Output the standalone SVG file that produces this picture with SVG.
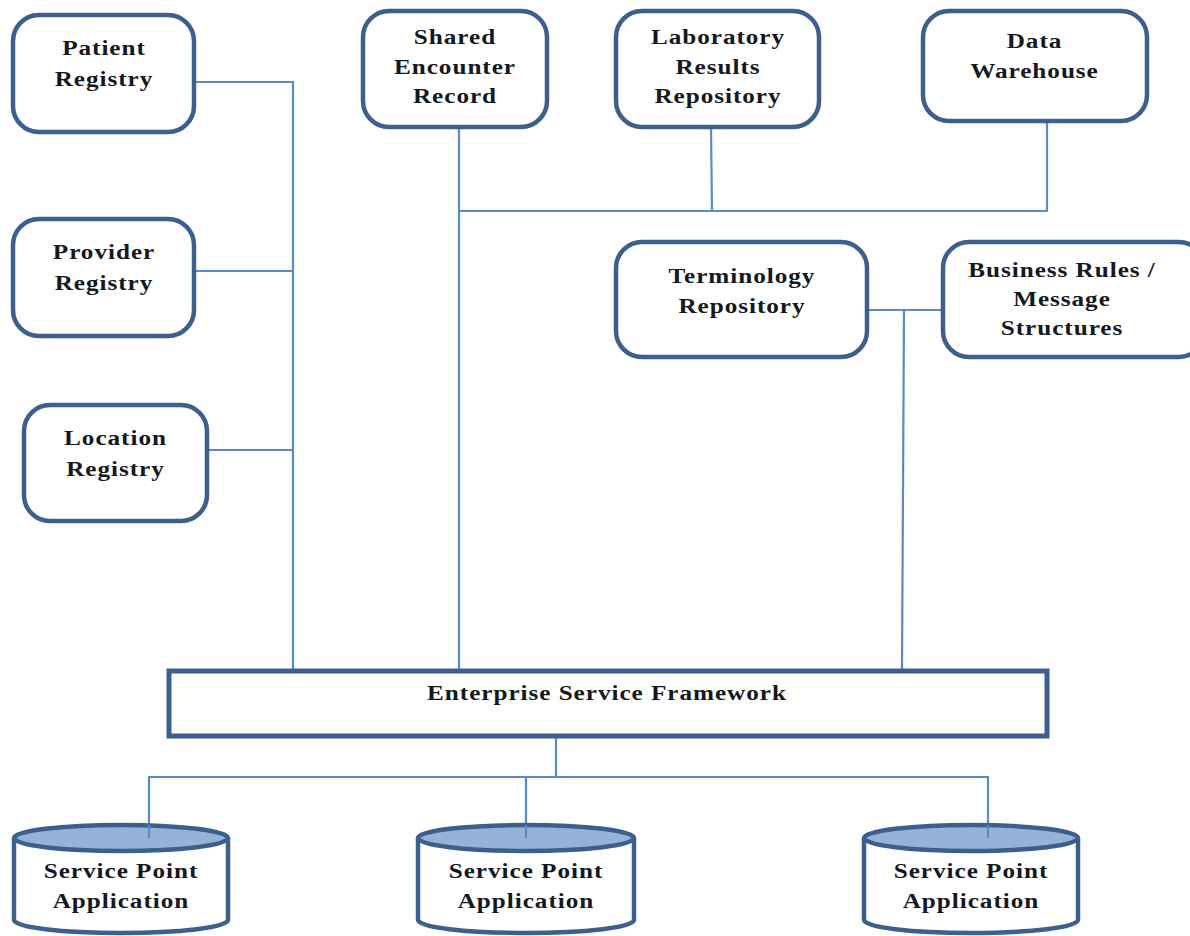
<svg xmlns="http://www.w3.org/2000/svg" width="1190" height="936" viewBox="0 0 1190 936">
  <style>
    .box { fill: #ffffff; stroke: #3c5f8d; stroke-width: 4.5; }
    .bar { fill: #ffffff; stroke: #3c5f8d; stroke-width: 5; }
    .cyl { fill: #ffffff; stroke: #3c5f8d; stroke-width: 4.5; }
    .cyltop { fill: #95b3d7; stroke: #3c5f8d; stroke-width: 4.5; }
    .wire { fill: none; stroke: #5b8bc7; stroke-width: 2.2; }
    .lbl { font-family: "Liberation Serif", "Times New Roman", serif; font-weight: bold; font-size: 21px; fill: #141820; text-anchor: middle; letter-spacing: 0.8px; }
  </style>

  <!-- connectors -->
  <g id="connectors">
    <!-- registries trunk -->
    <polyline class="wire" points="195,82 293,82 293,669"/>
    <line class="wire" x1="195" y1="271" x2="293" y2="271"/>
    <line class="wire" x1="208" y1="450" x2="293" y2="450"/>
    <!-- shared encounter / lab / warehouse -->
    <line class="wire" x1="459" y1="128" x2="459" y2="669"/>
    <polyline class="wire" points="459,211 1047,211 1047,122"/>
    <line class="wire" x1="711" y1="128" x2="712" y2="211"/>
    <!-- terminology / business rules -->
    <line class="wire" x1="868" y1="310" x2="942" y2="310"/>
    <line class="wire" x1="904" y1="310" x2="902" y2="669"/>
    <!-- framework to service points -->
    <line class="wire" x1="556" y1="738" x2="556" y2="777"/>
    <polyline class="wire" points="149,830 149,777 988,777 988,830"/>
    <line class="wire" x1="526" y1="777" x2="526" y2="830"/>
  </g>

  <!-- labels are drawn in a horizontally widened frame (x scaled by 1.2) -->
  <g id="patient-registry">
    <rect class="box" x="13" y="15" width="181" height="117" rx="26"/>
    <g transform="scale(1.2 1)">
      <text class="lbl" x="86.67" y="55">Patient</text>
      <text class="lbl" x="86.67" y="86">Registry</text>
    </g>
  </g>

  <g id="provider-registry">
    <rect class="box" x="13" y="219" width="181" height="117" rx="26"/>
    <g transform="scale(1.2 1)">
      <text class="lbl" x="86.67" y="259">Provider</text>
      <text class="lbl" x="86.67" y="290">Registry</text>
    </g>
  </g>

  <g id="location-registry">
    <rect class="box" x="24" y="405" width="183" height="116" rx="26"/>
    <g transform="scale(1.2 1)">
      <text class="lbl" x="96.25" y="445">Location</text>
      <text class="lbl" x="96.25" y="476">Registry</text>
    </g>
  </g>

  <g id="shared-encounter-record">
    <rect class="box" x="363" y="11" width="184" height="116" rx="26"/>
    <g transform="scale(1.2 1)">
      <text class="lbl" x="379.17" y="44">Shared</text>
      <text class="lbl" x="379.17" y="74">Encounter</text>
      <text class="lbl" x="379.17" y="103">Record</text>
    </g>
  </g>

  <g id="laboratory-results-repository">
    <rect class="box" x="616" y="11" width="203" height="116" rx="26"/>
    <g transform="scale(1.2 1)">
      <text class="lbl" x="598.33" y="44">Laboratory</text>
      <text class="lbl" x="598.33" y="74">Results</text>
      <text class="lbl" x="598.33" y="103">Repository</text>
    </g>
  </g>

  <g id="data-warehouse">
    <rect class="box" x="923" y="11" width="224" height="110" rx="26"/>
    <g transform="scale(1.2 1)">
      <text class="lbl" x="862.08" y="48">Data</text>
      <text class="lbl" x="862.08" y="78">Warehouse</text>
    </g>
  </g>

  <g id="terminology-repository">
    <rect class="box" x="616" y="242" width="251" height="115" rx="26"/>
    <g transform="scale(1.2 1)">
      <text class="lbl" x="618.33" y="283">Terminology</text>
      <text class="lbl" x="618.33" y="313">Repository</text>
    </g>
  </g>

  <g id="business-rules">
    <rect class="box" x="943" y="242" width="262" height="115" rx="26"/>
    <g transform="scale(1.2 1)">
      <text class="lbl" x="885" y="277">Business Rules /</text>
      <text class="lbl" x="885" y="306">Message</text>
      <text class="lbl" x="885" y="335">Structures</text>
    </g>
  </g>

  <g id="enterprise-service-framework">
    <rect class="bar" x="169" y="671" width="878" height="65"/>
    <g transform="scale(1.2 1)">
      <text class="lbl" x="505.83" y="700">Enterprise Service Framework</text>
    </g>
  </g>

  <g id="service-point-1">
    <path class="cyl" d="M14,838 L14,920 A107,13 0 0 0 228,920 L228,838"/>
    <ellipse class="cyltop" cx="121" cy="838" rx="107" ry="13"/>
    <line class="wire" x1="149" y1="825" x2="149" y2="838"/>
    <g transform="scale(1.2 1)">
      <text class="lbl" x="100.83" y="878">Service Point</text>
      <text class="lbl" x="100.83" y="908">Application</text>
    </g>
  </g>

  <g id="service-point-2">
    <path class="cyl" d="M418,838 L418,920 A108,13 0 0 0 634,920 L634,838"/>
    <ellipse class="cyltop" cx="526" cy="838" rx="108" ry="13"/>
    <line class="wire" x1="526" y1="825" x2="526" y2="838"/>
    <g transform="scale(1.2 1)">
      <text class="lbl" x="438.33" y="878">Service Point</text>
      <text class="lbl" x="438.33" y="908">Application</text>
    </g>
  </g>

  <g id="service-point-3">
    <path class="cyl" d="M864,838 L864,920 A107,13 0 0 0 1078,920 L1078,838"/>
    <ellipse class="cyltop" cx="971" cy="838" rx="107" ry="13"/>
    <line class="wire" x1="988" y1="825" x2="988" y2="838"/>
    <g transform="scale(1.2 1)">
      <text class="lbl" x="809.17" y="878">Service Point</text>
      <text class="lbl" x="809.17" y="908">Application</text>
    </g>
  </g>
</svg>
